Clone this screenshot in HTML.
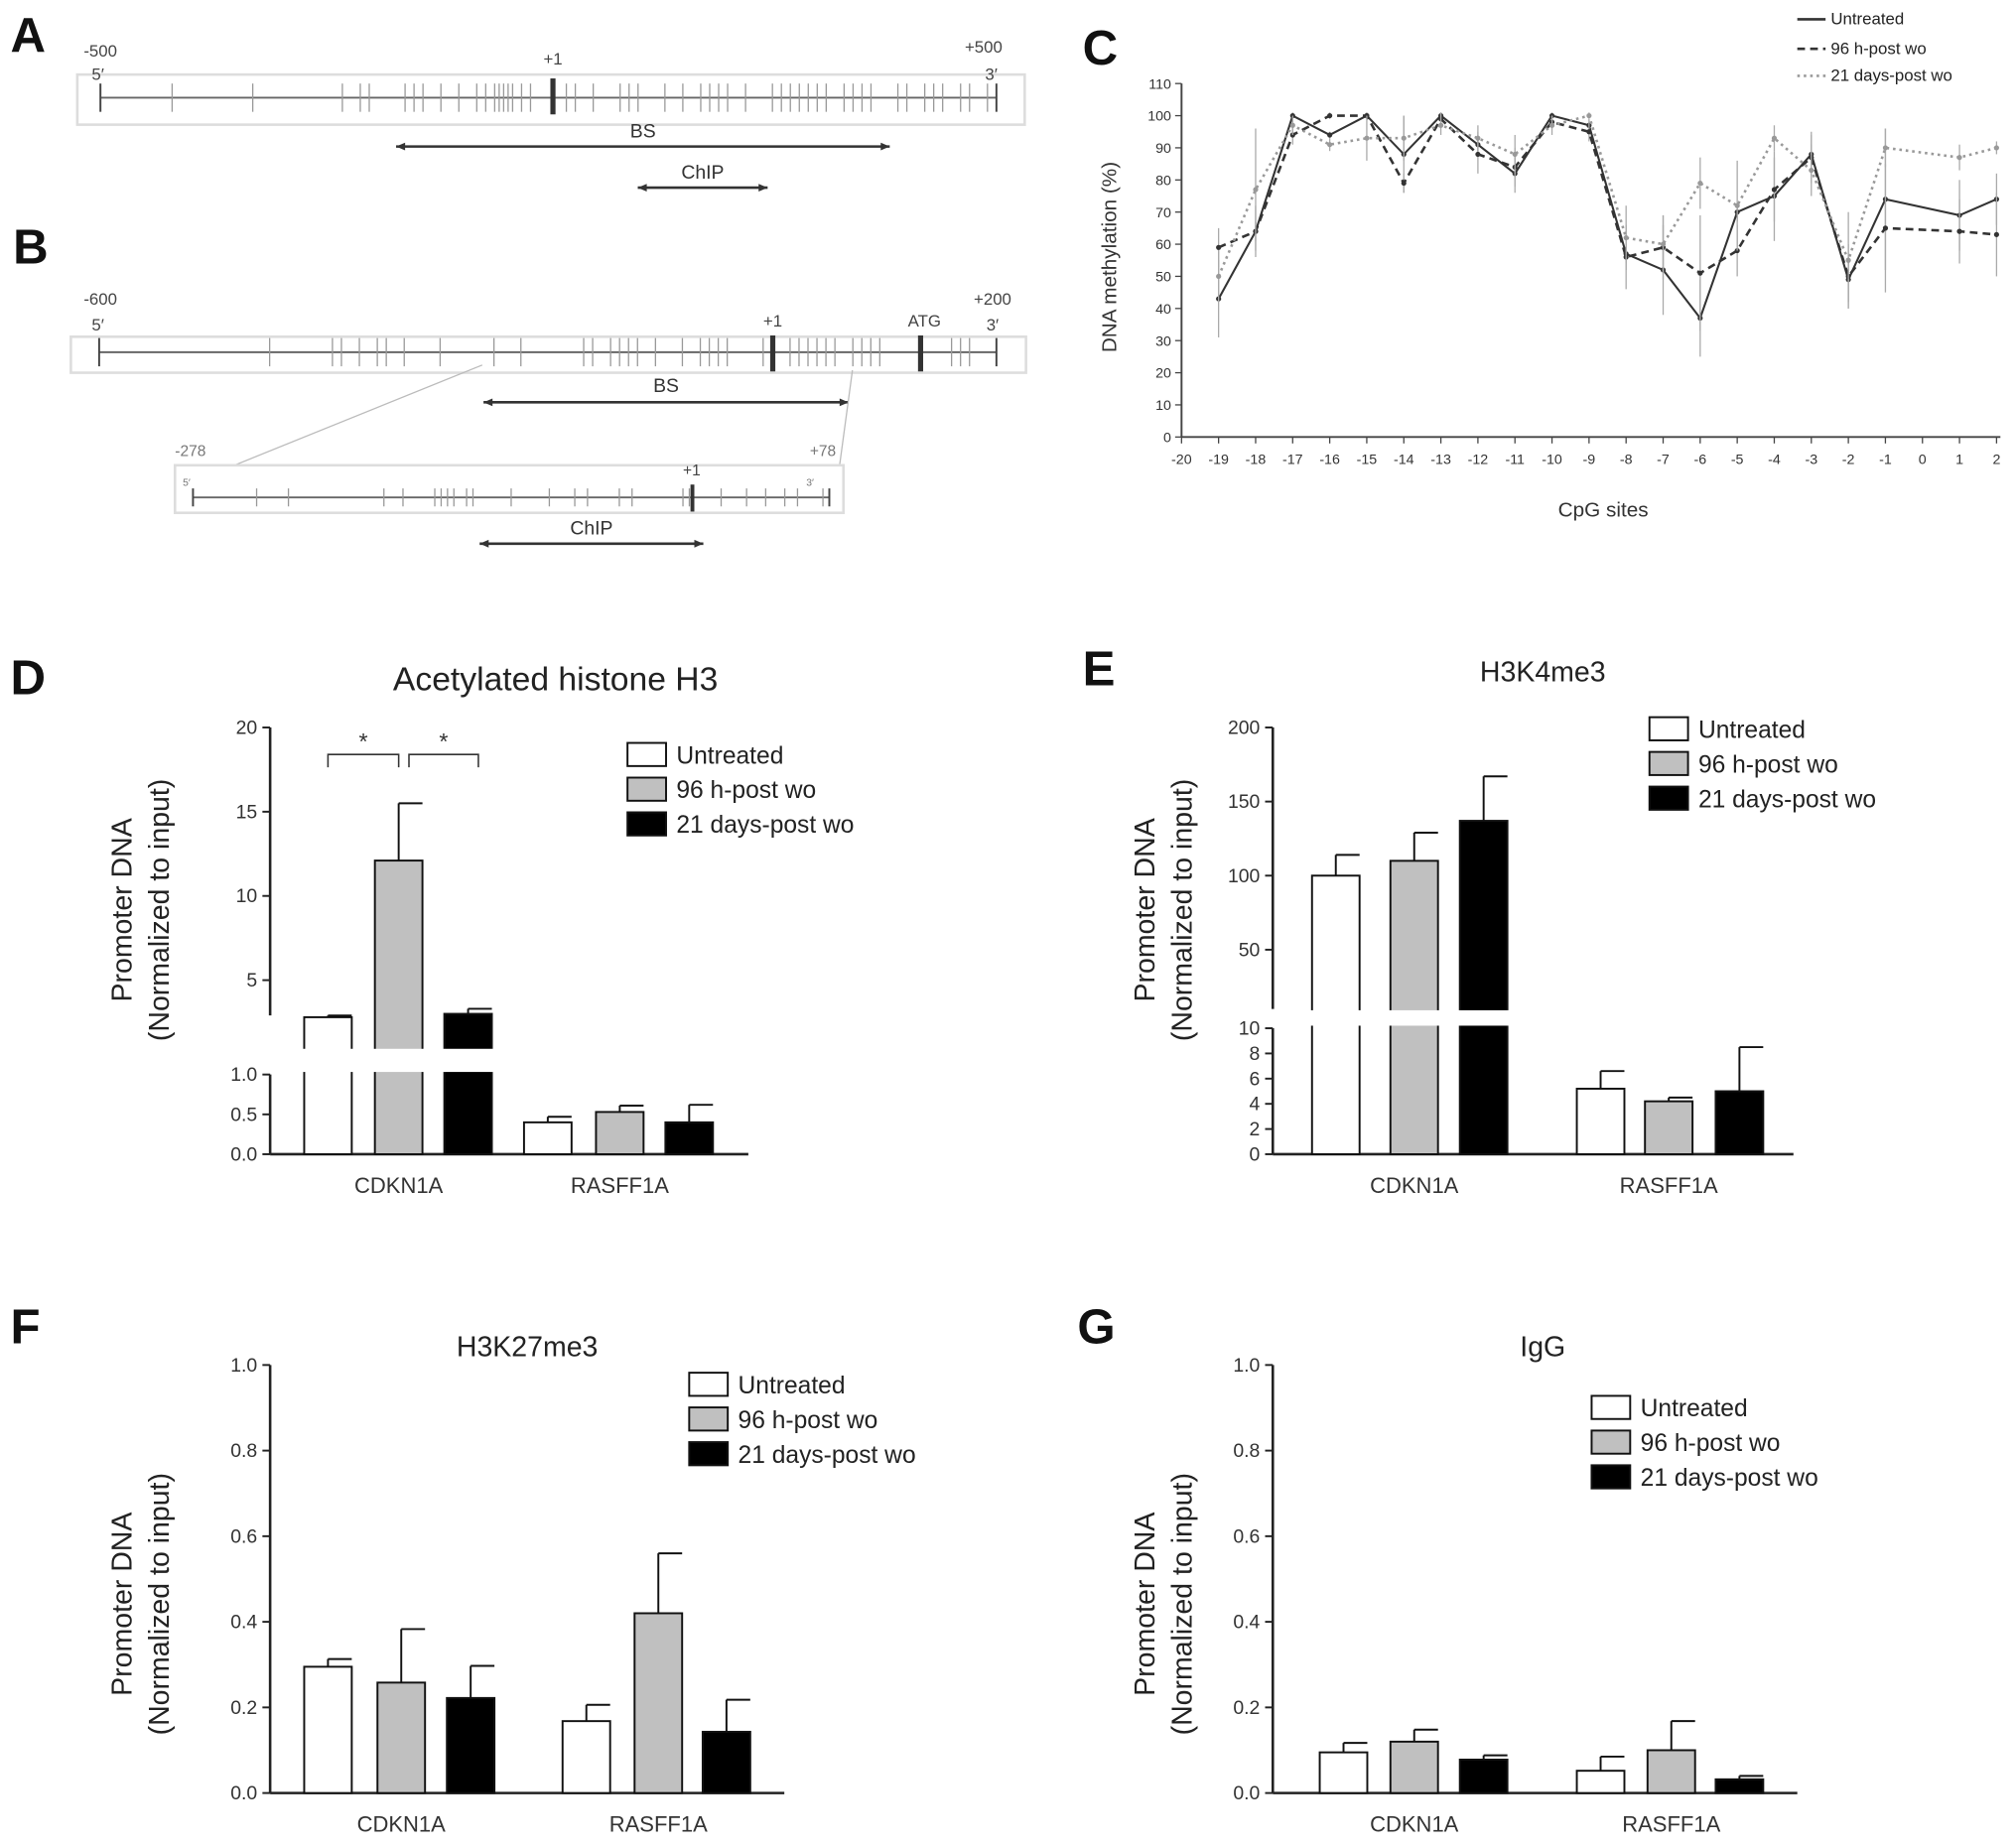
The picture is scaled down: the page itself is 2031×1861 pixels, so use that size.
<!DOCTYPE html>
<html><head><meta charset="utf-8"><style>
html,body{margin:0;padding:0;background:#fff}
svg{display:block;font-family:"Liberation Sans",Arial,sans-serif}
</style></head><body>
<svg id="fig" width="2031" height="1861" viewBox="0 0 1568 1437" xmlns="http://www.w3.org/2000/svg">
<rect width="1568" height="1437" fill="#fff"/>
<g font-weight="bold" font-size="38" fill="#111">
<text x="8" y="40">A</text>
<text x="10" y="205">B</text>
<text x="842" y="50">C</text>
<text x="8" y="540">D</text>
<text x="842" y="533">E</text>
<text x="8" y="1045">F</text>
<text x="838" y="1045">G</text>
</g>
<g id="diag"></g>
<g id="chartC"></g>
<g id="bars"></g>
</svg>
<script>
const NS="http://www.w3.org/2000/svg";
function el(parent,tag,attrs,text){const e=document.createElementNS(NS,tag);for(const k in attrs)e.setAttribute(k,attrs[k]);if(text!==undefined)e.textContent=text;parent.appendChild(e);return e;}

/* ---------- Panels A/B diagrams ---------- */
const aTicks=[0.08,0.17,0.27,0.29,0.3,0.34,0.35,0.36,0.38,0.4,0.42,0.43,0.44,0.445,0.45,0.455,0.46,0.47,0.48,0.52,0.53,0.55,0.58,0.59,0.6,0.63,0.65,0.67,0.68,0.69,0.7,0.72,0.75,0.76,0.77,0.78,0.79,0.8,0.81,0.83,0.84,0.85,0.86,0.89,0.9,0.92,0.93,0.94,0.96,0.97,0.99];
const bTicks=[0.19,0.26,0.27,0.29,0.31,0.32,0.34,0.38,0.44,0.47,0.54,0.55,0.57,0.58,0.59,0.6,0.62,0.65,0.67,0.68,0.69,0.7,0.74,0.77,0.78,0.79,0.8,0.81,0.82,0.84,0.85,0.86,0.87,0.95,0.96,0.97];
const iTicks=[0.1,0.15,0.3,0.33,0.38,0.39,0.4,0.41,0.43,0.44,0.5,0.56,0.6,0.62,0.67,0.69,0.77,0.78,0.83,0.87,0.9,0.93,0.95,0.99];
(function(){
const g=document.getElementById('diag');
function track(x0,y0,x1,y1,lx0,lx1,ly,ticks,tickH,name){
  const b=el(g,'rect',{x:x0,y:y0,width:x1-x0,height:y1-y0,fill:'#fff',stroke:'#ddd','stroke-width':2});
  
  
  el(g,'line',{x1:lx0,y1:ly,x2:lx1,y2:ly,stroke:'#666','stroke-width':1.5});
  el(g,'line',{x1:lx0,y1:ly-tickH,x2:lx0,y2:ly+tickH,stroke:'#444','stroke-width':1.5});
  el(g,'line',{x1:lx1,y1:ly-tickH,x2:lx1,y2:ly+tickH,stroke:'#444','stroke-width':1.5});
  ticks.forEach(f=>{const x=lx0+f*(lx1-lx0);el(g,'line',{x1:x,y1:ly-tickH,x2:x,y2:ly+tickH,stroke:'#999','stroke-width':1});});
}
function arrow(x0,x1,y,label,ly,name){
  const l=el(g,'line',{x1:x0,y1:y,x2:x1,y2:y,stroke:'#333','stroke-width':2});
  
  
  el(g,'path',{d:`M${x0} ${y} l7 -3 v6 z M${x1} ${y} l-7 -3 v6 z`,fill:'#333'});
  el(g,'text',{x:(x0+x1)/2,y:ly,'text-anchor':'middle','font-size':15,fill:'#333'},label);
}
const t=(x,y,s,size,c)=>el(g,'text',{x:x,y:y,'text-anchor':'middle','font-size':size||13,fill:c||'#444'},s);
// A
track(60,58,797,97,78,775,76,aTicks,11,'panel-a');
el(g,'rect',{x:428,y:61,width:4,height:28,fill:'#333'});
t(78,44,'-500');t(76,62,"5′");t(765,41,'+500');t(771,62,"3′");t(430,50,'+1');
arrow(308,692,114,'BS',107,'panel-a-bs-arrow');arrow(496,597,146,'ChIP',139,'panel-a-chip-arrow');
// B
track(55,262,798,290,77,775,274,bTicks,11,'panel-b');
el(g,'rect',{x:599,y:261,width:4,height:28,fill:'#333'});
el(g,'rect',{x:714,y:261,width:4,height:28,fill:'#333'});
t(78,237,'-600');t(772,237,'+200');t(76,257,"5′");t(772,257,"3′");t(601,254,'+1');t(719,254,'ATG');
arrow(376,660,313,'BS',305,'panel-b-bs-arrow');
el(g,'line',{x1:375,y1:284,x2:155,y2:373,stroke:'#bbb','stroke-width':1});
el(g,'line',{x1:663,y1:288,x2:653,y2:362,stroke:'#bbb','stroke-width':1});
track(136,362,656,399,150,645,387,iTicks,7,'panel-b-inset');
el(g,'rect',{x:537,y:377,width:3,height:21,fill:'#333'});
t(148,355,'-278',12,'#777');t(640,355,'+78',12,'#777');t(538,370,'+1',12);t(145,378,'5′',8,'#777');t(630,378,'3′',8,'#777');
arrow(373,547,423,'ChIP',416,'panel-b-chip-arrow');
})();

/* ---------- Panel C line chart ---------- */
const cpgSites=[-19,-18,-17,-16,-15,-14,-13,-12,-11,-10,-9,-8,-7,-6,-5,-4,-3,-2,-1,1,2];
const untreatedVals=[43,64,100,94,100,88,100,91,82,100,97,57,52,37,70,75,88,49,74,69,74];
const untreatedErr=[12,3,1,1,1,12,1,4,6,1,2,3,14,12,3,14,6,7,22,11,8];
const h96Vals=[59,64,94,100,100,79,99,88,84,98,95,56,59,51,58,77,87,50,65,64,63];
const h96Err=[6,8,3,1,1,3,2,6,6,2,3,10,10,18,8,10,8,10,20,10,13];
const d21Vals=[50,77,97,91,93,93,97,93,88,97,100,62,60,79,72,93,83,55,90,87,90];
const d21Err=[8,19,3,2,7,7,3,4,6,3,1,10,9,8,14,4,8,15,6,4,2];
const cXTicks=[-20,-19,-18,-17,-16,-15,-14,-13,-12,-11,-10,-9,-8,-7,-6,-5,-4,-3,-2,-1,0,1,2];
const cYTicks=[0,10,20,30,40,50,60,70,80,90,100,110];
(function(){
const g=document.getElementById('chartC');
const X=v=>919+(v+20)*(1553-919)/22, Y=v=>340-v*2.5;
el(g,'line',{x1:919,y1:340,x2:1556,y2:340,stroke:'#444','stroke-width':1.5});
el(g,'line',{x1:919,y1:65,x2:919,y2:340,stroke:'#444','stroke-width':1.5});
cXTicks.forEach(v=>{el(g,'line',{x1:X(v),y1:340,x2:X(v),y2:345,stroke:'#444'});
 const t=el(g,'text',{x:X(v),y:361,'text-anchor':'middle','font-size':11,fill:'#333'},v);
 
 });
cYTicks.forEach(v=>{el(g,'line',{x1:914,y1:Y(v),x2:919,y2:Y(v),stroke:'#444'});
 const t=el(g,'text',{x:911,y:Y(v)+4,'text-anchor':'end','font-size':11,fill:'#333'},v);
 
 });
const xt=el(g,'text',{x:1247,y:402,'text-anchor':'middle','font-size':16,fill:'#333'},'CpG sites');


const yt=el(g,'text',{x:0,y:0,transform:'translate(868,200) rotate(-90)','text-anchor':'middle','font-size':16,fill:'#333'},'DNA methylation (%)');


const series=[[untreatedVals,untreatedErr,'#333','none',1.6,'untreated'],[h96Vals,h96Err,'#333','6 4',2,'96h'],[d21Vals,d21Err,'#999','2 3',2,'21d']];
series.forEach(s=>{
 s[0].forEach((v,i)=>{const x=X(cpgSites[i]);el(g,'line',{x1:x,y1:Y(v-s[1][i]),x2:x,y2:Y(v+s[1][i]),stroke:'#aaa','stroke-width':1});});
 const p=el(g,'polyline',{points:s[0].map((v,i)=>X(cpgSites[i])+','+Y(v)).join(' '),fill:'none',stroke:s[2],'stroke-width':s[4],'stroke-dasharray':s[3]});
 
 
 s[0].forEach((v,i)=>{const c=el(g,'circle',{cx:X(cpgSites[i]),cy:Y(v),r:2,fill:s[2]});
  
  });
});
const leg=[['Untreated','none','#333',19],['96 h-post wo','6 4','#333',42],['21 days-post wo','2 3','#999',63]];
leg.forEach(l=>{el(g,'line',{x1:1398,y1:l[3]-4,x2:1420,y2:l[3]-4,stroke:l[2],'stroke-width':2,'stroke-dasharray':l[1]});
 const t=el(g,'text',{x:1424,y:l[3],'font-size':13,fill:'#222'},l[0]);
 
 });
})();

/* ---------- Bar charts D-G ---------- */
const barGroups=['CDKN1A','RASFF1A'];
const seriesNames=['Untreated','96 h-post wo','21 days-post wo'];
const dVals=[[2.8,12.1,3.0],[0.4,0.53,0.4]];
const dErr=[[0.1,3.4,0.3],[0.07,0.08,0.22]];
const eVals=[[100,110,137],[5.2,4.2,5.0]];
const eErr=[[14,19,30],[1.4,0.3,3.5]];
const fVals=[[0.295,0.258,0.222],[0.168,0.42,0.143]];
const fErr=[[0.018,0.125,0.075],[0.038,0.14,0.075]];
const gVals=[[0.095,0.12,0.078],[0.052,0.1,0.032]];
const gErr=[[0.022,0.028,0.01],[0.033,0.068,0.008]];
const dLowTicks=['0.0','0.5','1.0'], dHighTicks=[5,10,15,20];
const eLowTicks=[0,2,4,6,8,10], eHighTicks=[50,100,150,200];
const fgTicks=['0.0','0.2','0.4','0.6','0.8','1.0'];
const fills=['#fff','#c0c0c0','#000'];
(function(){
const g=document.getElementById('bars');
// scale: returns y for value, with optional broken axis
function mkScale(low,high){return v=>{if(v<=low.max)return low.y0-(v-low.min)*(low.y0-low.y1)/(low.max-low.min);return high.y0-(v-high.min)*(high.y0-high.y1)/(high.max-high.min);};}
function chart(o){
 const S=o.scale;
 // axes
 el(g,'line',{x1:o.ax,y1:o.y0,x2:o.xEnd,y2:o.y0,stroke:'#222','stroke-width':2});
 o.axisSegs.forEach(sg=>el(g,'line',{x1:o.ax,y1:sg[0],x2:o.ax,y2:sg[1],stroke:'#222','stroke-width':2}));
 o.ticks.forEach(tv=>{const y=S(+tv);el(g,'line',{x1:o.ax-6,y1:y,x2:o.ax,y2:y,stroke:'#222','stroke-width':1.5});
  const t=el(g,'text',{x:o.ax-10,y:y+5,'text-anchor':'end','font-size':o.tickSize||15,fill:'#333'},tv);
  
  });
 // bars
 o.vals.forEach((grp,gi)=>grp.forEach((v,si)=>{
  const cx=o.centers[gi][si], w=37, yv=S(v), yb=o.y0;
  const r=el(g,'rect',{x:cx-w/2,y:yv,width:w,height:yb-yv,fill:fills[si],stroke:'#111','stroke-width':1.5});
  
  
  const ye=S(v+o.err[gi][si]);
  el(g,'line',{x1:cx,y1:yv,x2:cx,y2:ye,stroke:'#111','stroke-width':1.5});
  el(g,'line',{x1:cx,y1:ye,x2:cx+w/2,y2:ye,stroke:'#111','stroke-width':1.5});
 }));
 if(o.gap) el(g,'rect',{x:o.ax+2,y:o.gap[0],width:o.xEnd-o.ax,height:o.gap[1]-o.gap[0],fill:'#fff'});
 barGroups.forEach((n,gi)=>{const cx=o.centers[gi][1];
  const t=el(g,'text',{x:cx,y:o.y0+30,'text-anchor':'middle','font-size':17,fill:'#333'},n);
  
  });
 const tt=el(g,'text',{x:o.title[0],y:o.title[1],'text-anchor':'middle','font-size':o.title[2],fill:'#222'},o.title[3]);
 
 
 [['Promoter DNA',o.yt[0]],['(Normalized to input)',o.yt[0]+29]].forEach(l=>{
  const t=el(g,'text',{x:0,y:0,transform:`translate(${l[1]},${o.yt[1]}) rotate(-90)`,'text-anchor':'middle','font-size':22,fill:'#222'},l[0]);
  
  });
 seriesNames.forEach((n,si)=>{const y=o.leg[1]+si*27;
  el(g,'rect',{x:o.leg[0],y:y,width:30,height:18,fill:fills[si],stroke:'#111','stroke-width':1.5});
  const t=el(g,'text',{x:o.leg[0]+38,y:y+16,'font-size':19,fill:'#222'},n);
  
  });
}
// D
chart({ax:210,y0:898,xEnd:582,
 scale:mkScale({min:0,max:1,y0:898,y1:836},{min:1,max:20,y0:815,y1:566}),
 axisSegs:[[836,898],[566,790]],ticks:[...dLowTicks,...dHighTicks],gap:[816,834],
 vals:dVals,err:dErr,centers:[[255,310,364],[426,482,536]],
 title:[432,537,26,'Acetylated histone H3'],yt:[102,708],leg:[488,578]});
// significance brackets
[[255,310],[318,372]].forEach(b=>{el(g,'path',{d:`M${b[0]} 597 V587 H${b[1]} V597`,fill:'none',stroke:'#333','stroke-width':1.2});
 el(g,'text',{x:(b[0]+b[1])/2,y:583,'text-anchor':'middle','font-size':18,fill:'#333'},'*');});
// E
chart({ax:990,y0:898,xEnd:1395,
 scale:mkScale({min:0,max:10,y0:898,y1:800},{min:10,max:200,y0:785,y1:566}),
 axisSegs:[[800,898],[566,785]],ticks:[...eLowTicks,...eHighTicks],gap:[786,798],
 vals:eVals,err:eErr,centers:[[1039,1100,1154],[1245,1298,1353]],
 title:[1200,530,22,'H3K4me3'],yt:[898,708],leg:[1283,558]});
// F
chart({ax:210,y0:1395,xEnd:610,
 scale:mkScale({min:0,max:1,y0:1395,y1:1062},{min:1,max:2,y0:1062,y1:729}),
 axisSegs:[[1062,1395]],ticks:fgTicks,
 vals:fVals,err:fErr,centers:[[255,312,366],[456,512,565]],
 title:[410,1055,22,'H3K27me3'],yt:[102,1248],leg:[536,1068]});
// G
chart({ax:990,y0:1395,xEnd:1398,
 scale:mkScale({min:0,max:1,y0:1395,y1:1062},{min:1,max:2,y0:1062,y1:729}),
 axisSegs:[[1062,1395]],ticks:fgTicks,
 vals:gVals,err:gErr,centers:[[1045,1100,1154],[1245,1300,1353]],
 title:[1200,1055,22,'IgG'],yt:[898,1248],leg:[1238,1086]});
})();
</script>
</body></html>
